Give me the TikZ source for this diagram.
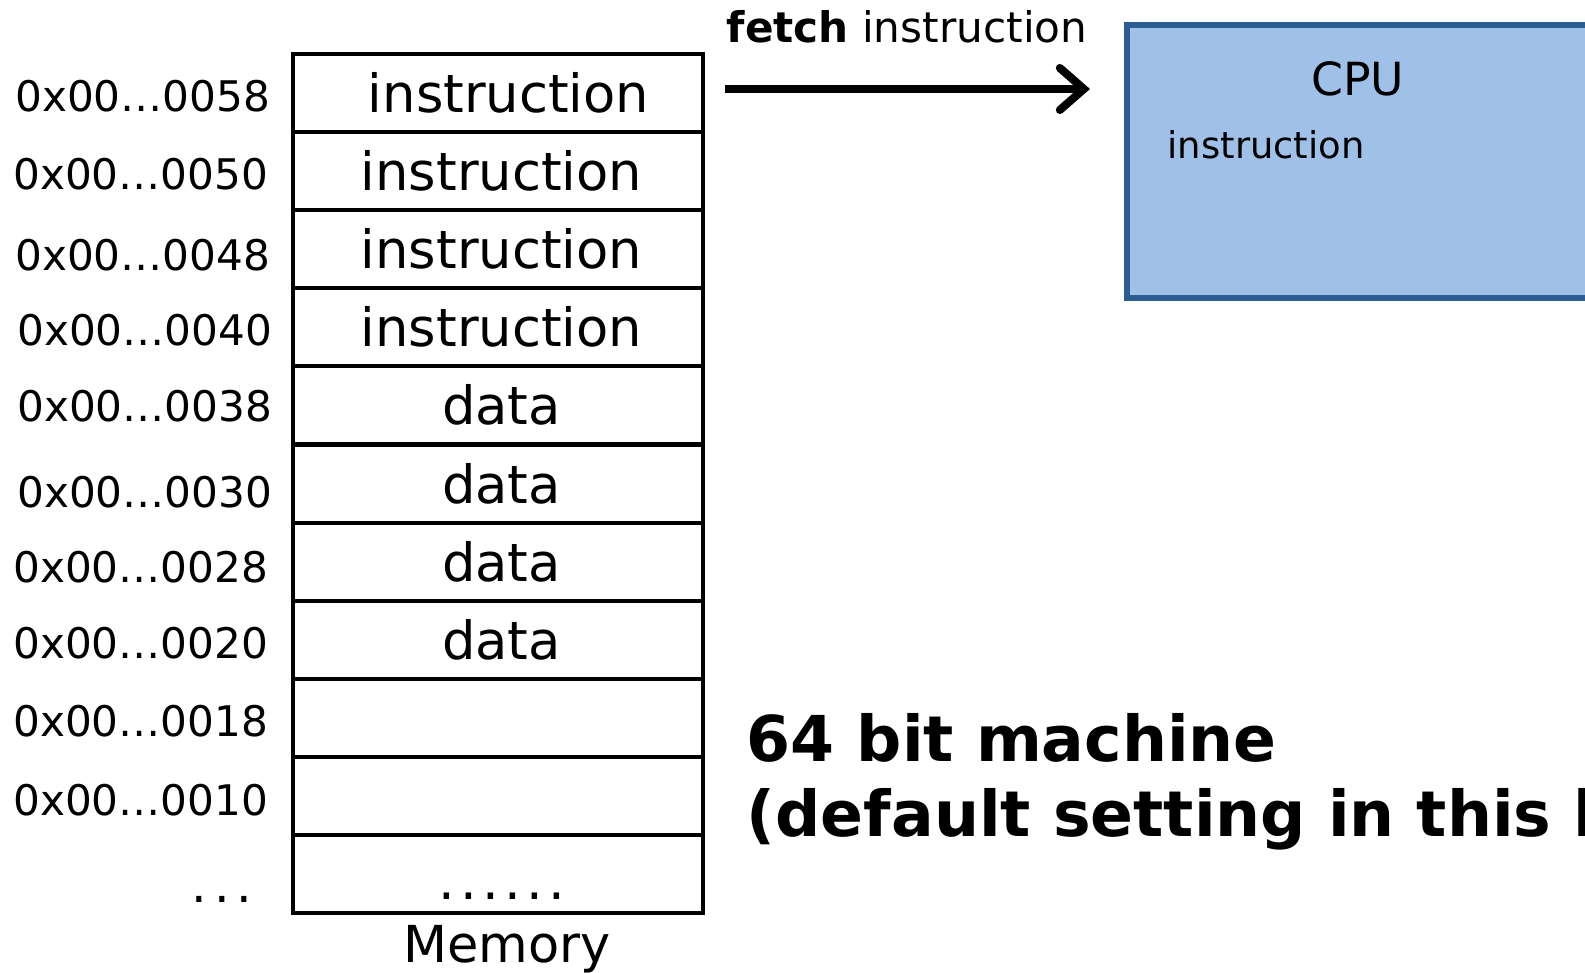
\documentclass[tikz,border=0pt]{standalone}
\usepackage{fontspec}
\setmainfont{DejaVu Sans}
\usetikzlibrary{arrows.meta}
\definecolor{cpufill}{RGB}{160,193,231}
\definecolor{cpuedge}{RGB}{44,92,146}

\begin{document}
\begin{tikzpicture}[x=0.1mm, y=-0.1mm,
  cell/.style={draw, line width=1.3pt, minimum width=4.1cm, minimum height=0.781cm, inner sep=0pt,
    font=\fontsize{15}{17}\selectfont},
  addr/.style={anchor=east, inner sep=0pt, font=\fontsize{12}{14}\selectfont}]
  \clip (0,0) rectangle (1585,973);

  % memory cells
  \node[cell] (m0) at (498,93) {\hspace{6pt}instruction};
  \node[cell] (m1) at (498,171) {\hspace{2pt}instruction};
  \node[cell] (m2) at (498,249) {\hspace{2pt}instruction};
  \node[cell] (m3) at (498,327) {\hspace{2pt}instruction};
  \node[cell] (m4) at (498,405) {\hspace{2pt}data};
  \node[cell] (m5) at (498,484) {\hspace{2pt}data};
  \node[cell] (m6) at (498,562) {\hspace{2pt}data};
  \node[cell] (m7) at (498,640) {\hspace{2pt}data};
  \node[cell] (m8) at (498,718) {};
  \node[cell] (m9) at (498,796) {};
  \node[cell] (m10) at (498,874) {};
  \node[anchor=base, font=\fontsize{15}{17}\selectfont] (celldots) at (502,900) {.\kern1.5pt.\kern1.5pt.\kern1.5pt.\kern1.5pt.\kern1.5pt.};
  \node[anchor=base, font=\fontsize{14.5}{17}\selectfont] (memlabel) at (507,963) {Memory};

  % addresses
  \node[addr] (a0) at (271,96) {0x00…0058};
  \node[addr] (a1) at (269,174) {0x00…0050};
  \node[addr] (a2) at (271,255) {0x00…0048};
  \node[addr] (a3) at (273,330) {0x00…0040};
  \node[addr] (a4) at (273,406) {0x00…0038};
  \node[addr] (a5) at (273,492) {0x00…0030};
  \node[addr] (a6) at (269,567) {0x00…0028};
  \node[addr] (a7) at (269,643) {0x00…0020};
  \node[addr] (a8) at (269,721) {0x00…0018};
  \node[addr] (a9) at (269,800) {0x00…0010};
  \node[anchor=base, font=\fontsize{14}{16}\selectfont] (adots) at (222,903) {.\kern2pt.\kern2pt.};

  % cpu
  \node[draw=cpuedge, fill=cpufill, line width=1.6pt, minimum width=6cm, minimum height=2.73cm, inner sep=0pt] (cpu) at (1427,161.5) {};
  \node[font=\fontsize{13}{15}\selectfont] (cpulabel) at (1358,79) {CPU};
  \node[anchor=west, inner sep=0pt, font=\fontsize{10.5}{12}\selectfont] (cpuinstr) at (1167,145) {instruction};

  % fetch arrow
  \coordinate (fetchtail) at (725,89);
  \coordinate (fetchtip) at (1090,89);
  \draw[line width=2.3pt, -{Straight Barb[length=2.4mm, width=4.2mm, line cap=round]}] (fetchtail) -- (fetchtip);
  \node[anchor=base west, inner sep=0pt, font=\fontsize{12}{14}\selectfont] (fetchlabel) at (726,43) {\textbf{fetch} instruction};

  % note
  \node[anchor=base west, inner sep=0pt, font=\fontsize{18}{21}\selectfont\bfseries] (note1) at (746,762) {64 bit machine};
  \node[anchor=base west, inner sep=0pt, font=\fontsize{18}{21}\selectfont\bfseries] (note2) at (746,837) {(default setting in this lab)};
\end{tikzpicture}
\end{document}
